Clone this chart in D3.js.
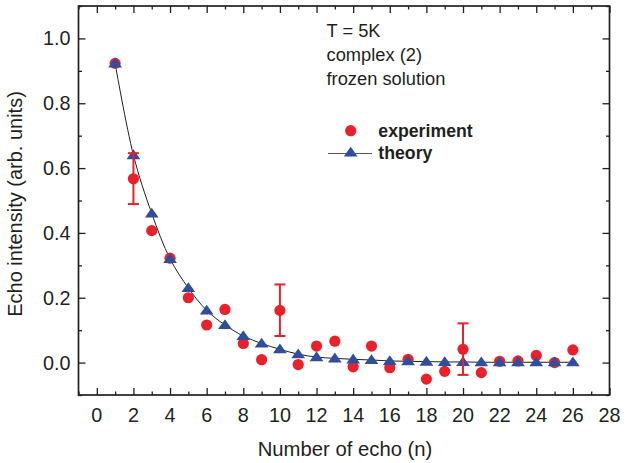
<!DOCTYPE html>
<html>
<head>
<meta charset="utf-8">
<script src="https://cdn.jsdelivr.net/npm/d3@7"></script>
<style>
html,body{margin:0;padding:0;background:#fff;}
svg{display:block;font-family:"Liberation Sans",Arial,Helvetica,sans-serif;}
</style>
</head>
<body>
<svg id="chart" width="637" height="463"></svg>
<script>
// ---- data ----
const echoN = [1,2,3,4,5,6,7,8,9,10,11,12,13,14,15,16,17,18,19,20,21,22,23,24,25,26];
const experiment = [0.923,0.567,0.407,0.322,0.200,0.116,0.164,0.059,0.009,0.161,-0.006,0.051,0.066,-0.013,0.051,-0.016,0.010,-0.051,-0.027,0.041,-0.031,0.004,0.005,0.022,0.000,0.039];
const theory = [0.923,0.640,0.460,0.320,0.230,0.161,0.116,0.082,0.059,0.041,0.026,0.017,0.013,0.010,0.008,0.005,0.004,0.003,0.002,0.002,0.001,0.001,0.001,0.001,0.001,0.001];
const errN = [2,10,20];
const errLow = [0.489,0.082,-0.038];
const errHigh = [0.646,0.241,0.121];
const xTickLabels = [0,2,4,6,8,10,12,14,16,18,20,22,24,26,28];
const yTickLabels = [0.0,0.2,0.4,0.6,0.8,1.0];
const annotations = ["T = 5K","complex (2)","frozen solution"];
const legendLabels = ["experiment","theory"];

const RED = "#e8212b", BLUE = "#2f4f9e", INK = "#231f20";
const svg = d3.select("#chart");
const L = 78.5, R = 609.5, T = 6, B = 395;
const x = d3.scaleLinear().domain([-1,28]).range([L,R]);
const y = d3.scaleLinear().domain([-0.1,1.1]).range([B,T]);

// axes (ticks inward)
const xMinor = d3.range(-1,29,1);
const yMinor = d3.range(-0.1,1.1001,0.1).map(v=>+v.toFixed(2));
const axB = d3.axisBottom(x).tickValues(xMinor).tickSizeInner(-7).tickSizeOuter(0).tickFormat("");
const axT = d3.axisTop(x).tickValues(xMinor).tickSizeInner(-7).tickSizeOuter(0).tickFormat("");
const axL = d3.axisLeft(y).tickValues(yMinor).tickSizeInner(-7).tickSizeOuter(0).tickFormat("");
const axR = d3.axisRight(y).tickValues(yMinor).tickSizeInner(-7).tickSizeOuter(0).tickFormat("");
function styleAxis(g){
  g.select(".domain").remove();
  g.selectAll(".tick line").attr("stroke",INK).attr("stroke-width",1.3);
}
const gB = svg.append("g").attr("transform",`translate(0,${B})`).call(axB).call(styleAxis);
const gT = svg.append("g").attr("transform",`translate(0,${T})`).call(axT).call(styleAxis);
const gL = svg.append("g").attr("transform",`translate(${L},0)`).call(axL).call(styleAxis);
const gR = svg.append("g").attr("transform",`translate(${R},0)`).call(axR).call(styleAxis);
// minor ticks shorter
gB.selectAll(".tick").filter(d=>Math.abs(d)%2===1).select("line").attr("y2",-3.5);
gT.selectAll(".tick").filter(d=>Math.abs(d)%2===1).select("line").attr("y2",3.5);
const isMinorY = d=>Math.abs(Math.round(d*10))%2===1;
gL.selectAll(".tick").filter(isMinorY).select("line").attr("x2",3.5);
gR.selectAll(".tick").filter(isMinorY).select("line").attr("x2",-3.5);

// frame
svg.append("rect").attr("x",L).attr("y",T).attr("width",R-L).attr("height",B-T)
  .attr("fill","none").attr("stroke",INK).attr("stroke-width",1.7);

// tick labels
svg.append("g").selectAll("text").data(xTickLabels).join("text")
  .attr("x",d=>x(d)).attr("y",421.5).attr("text-anchor","middle")
  .attr("font-size",19.8).attr("fill",INK).text(d=>d);
svg.append("g").selectAll("text").data(yTickLabels).join("text")
  .attr("x",70.5).attr("y",d=>y(d)+7).attr("text-anchor","end")
  .attr("font-size",19.8).attr("fill",INK).text(d=>d.toFixed(1));

// axis titles
svg.append("text").attr("x",345).attr("y",456).attr("text-anchor","middle")
  .attr("font-size",20.3).attr("fill",INK).text("Number of echo (n)");
svg.append("text").attr("transform","translate(22,204) rotate(-90)").attr("text-anchor","middle")
  .attr("font-size",20).attr("fill",INK).text("Echo intensity (arb. units)");

// annotations
svg.append("g").selectAll("text").data(annotations).join("text")
  .attr("x",326.5).attr("y",(d,i)=>37.3+i*23.9).attr("font-size",18.3).attr("fill",INK).text(d=>d);

// data
const theoryPts = echoN.map((n,i)=>[n,theory[i]]);
const expPts = echoN.map((n,i)=>[n,experiment[i]]);
const line = d3.line().x(d=>x(d[0])).y(d=>y(d[1])).curve(d3.curveCatmullRom.alpha(0.5));
svg.append("path").datum(theoryPts).attr("d",line).attr("fill","none").attr("stroke",INK).attr("stroke-width",1);

svg.append("g").selectAll("circle").data(expPts).join("circle")
  .attr("cx",d=>x(d[0])).attr("cy",d=>y(d[1])).attr("r",5.6).attr("fill",RED);

const tri = d3.symbol().type(d3.symbolTriangle).size(62);
svg.append("g").selectAll("path").data(theoryPts).join("path")
  .attr("d",tri).attr("transform",d=>`translate(${x(d[0])},${y(d[1])+0.8}) scale(1.15,0.95)`).attr("fill",BLUE);

// error bars
const eg = svg.append("g").attr("stroke",RED).attr("stroke-width",2);
errN.forEach((n,i)=>{
  const cx = x(n);
  eg.append("line").attr("x1",cx).attr("x2",cx).attr("y1",y(errLow[i])).attr("y2",y(errHigh[i]));
  eg.append("line").attr("x1",cx-5.5).attr("x2",cx+5.5).attr("y1",y(errLow[i])).attr("y2",y(errLow[i]));
  eg.append("line").attr("x1",cx-5.5).attr("x2",cx+5.5).attr("y1",y(errHigh[i])).attr("y2",y(errHigh[i]));
});

// legend
svg.append("circle").attr("cx",350.7).attr("cy",130.7).attr("r",5.6).attr("fill",RED);
svg.append("line").attr("x1",328).attr("x2",372).attr("y1",153.5).attr("y2",153.5).attr("stroke","#555").attr("stroke-width",1);
svg.append("path").attr("d",tri).attr("transform","translate(350.7,153.3) scale(1.15,0.95)").attr("fill",BLUE);
svg.append("g").selectAll("text").data(legendLabels).join("text")
  .attr("x",378.3).attr("y",(d,i)=>136.7+i*21.8).attr("font-size",17.7).attr("font-weight","bold")
  .attr("fill",INK).text(d=>d);
</script>
</body>
</html>
